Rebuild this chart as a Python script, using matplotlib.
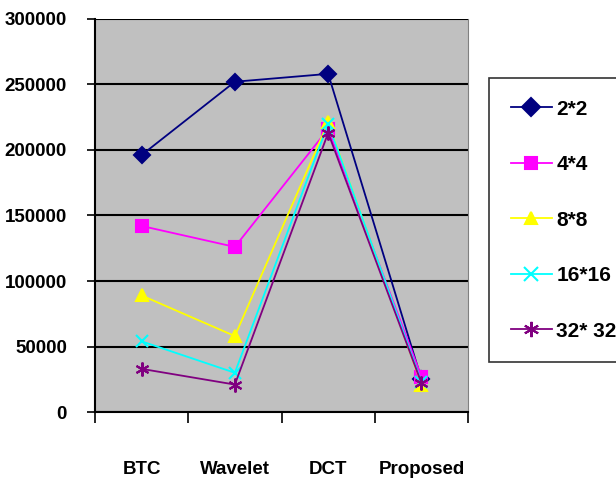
import numpy as np
import matplotlib.pyplot as plt

methods = ['BTC', 'Wavelet', 'DCT', 'Proposed']
block_sizes = ['2*2', '4*4', '8*8', '16*16', '32* 32']
s2 = [196000, 252000, 258000, 25000]
s4 = [142000, 126000, 216000, 27000]
s8 = [89000, 58000, 221000, 21000]
s16 = [54000, 30000, 220000, 23000]
s32 = [33000, 21000, 213000, 22000]

series = [s2, s4, s8, s16, s32]
colors = ['#000080', '#ff00ff', '#ffff00', '#00ffff', '#800080']
markers = ['D', 's', '^', 'x', (6, 2, 0)]
msizes = [8, 8, 8, 9, 10]

plt.rcParams['font.family'] = ['Liberation Sans', 'DejaVu Sans']
plt.rcParams['font.weight'] = 'bold'

fig = plt.figure(figsize=(6.16, 4.82), dpi=100)
ax = fig.add_axes([0.154, 0.145, 0.606, 0.816])
ax.set_facecolor('#c0c0c0')

x = np.arange(len(methods))
for vals, c, m, ms, lab in zip(series, colors, markers, msizes, block_sizes):
    ax.plot(x, vals, color=c, marker=m, markersize=ms, linewidth=1.3,
            markeredgewidth=1.5, label=lab)

ax.set_xlim(-0.5, 3.5)
ax.set_ylim(0, 300000)
ax.set_yticks(np.arange(0, 300001, 50000))
ax.set_yticklabels([str(v) for v in range(0, 300001, 50000)], fontsize=13.5)
ax.yaxis.grid(True, color='black', linewidth=1.5)
ax.set_axisbelow(True)

# category borders get the tick marks, names sit between them
ax.set_xticks(np.arange(-0.5, 3.6, 1))
ax.set_xticklabels([])
ax.set_xticks(x, minor=True)
ax.set_xticklabels(methods, minor=True, fontsize=13.5)
ax.tick_params(axis='x', which='major', length=8, width=1.2, direction='out')
ax.tick_params(axis='x', which='minor', length=0, pad=35)
ax.tick_params(axis='y', length=6, width=1.2, pad=14)

for side in ['left', 'bottom']:
    ax.spines[side].set_linewidth(1.5)
    ax.spines[side].set_color('black')
ax.spines['top'].set_visible(False)
ax.spines['right'].set_color('#808080')

leg = ax.legend(loc='upper left', bbox_to_anchor=(1.055, 0.85), fontsize=15,
                frameon=True, fancybox=False, edgecolor='black',
                borderpad=1.05, labelspacing=1.75, handlelength=2.0,
                handletextpad=0.2, borderaxespad=0, markerscale=1.1)
leg.get_frame().set_linewidth(1.2)

fig.savefig('out.png', dpi=100)
